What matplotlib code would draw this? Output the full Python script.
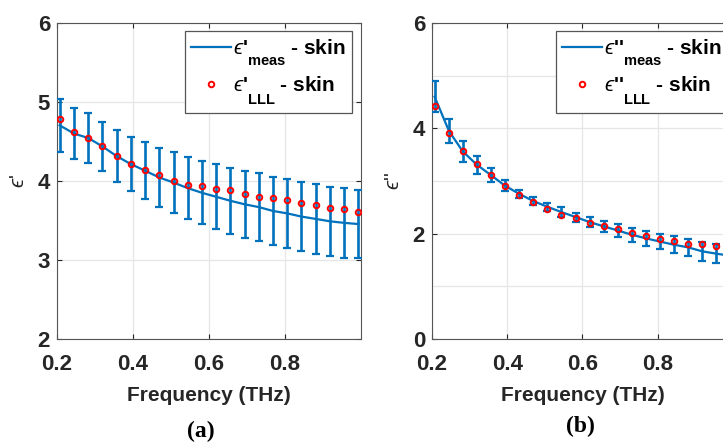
import matplotlib
matplotlib.use("Agg")  # no display
import matplotlib.pyplot as plt
from matplotlib.lines import Line2D
from matplotlib.ticker import MultipleLocator

# ---- data --------------------------------------------------------------
freq = [0.207, 0.245, 0.282, 0.319, 0.357, 0.394, 0.432, 0.469, 0.507, 0.544, 0.582,
        0.619, 0.656, 0.694, 0.731, 0.769, 0.806, 0.843, 0.881, 0.918, 0.956, 0.993]

# (a) real part
eps_re_meas = [4.705, 4.60, 4.545, 4.44, 4.315, 4.215, 4.13, 4.045, 3.98, 3.91, 3.85,
               3.80, 3.75, 3.705, 3.67, 3.62, 3.59, 3.55, 3.52, 3.49, 3.47, 3.455]
eps_re_err = [0.335, 0.32, 0.315, 0.31, 0.325, 0.345, 0.36, 0.375, 0.39, 0.39, 0.40,
              0.41, 0.42, 0.425, 0.43, 0.43, 0.44, 0.44, 0.44, 0.44, 0.44, 0.435]
eps_re_lll = [4.79, 4.62, 4.54, 4.44, 4.32, 4.22, 4.14, 4.07, 4.00, 3.955, 3.94,
              3.90, 3.88, 3.84, 3.80, 3.785, 3.755, 3.72, 3.69, 3.66, 3.64, 3.61]

# (b) imaginary part
eps_im_meas = [4.60, 3.95, 3.56, 3.31, 3.11, 2.91, 2.755, 2.62, 2.51, 2.41, 2.315,
               2.22, 2.14, 2.06, 1.98, 1.91, 1.85, 1.79, 1.74, 1.665, 1.62, 1.58]
eps_im_err = [0.29, 0.23, 0.20, 0.17, 0.13, 0.10, 0.075, 0.075, 0.08, 0.10, 0.085,
              0.10, 0.10, 0.12, 0.13, 0.135, 0.15, 0.16, 0.16, 0.175, 0.185, 0.19]
eps_im_lll = [4.42, 3.92, 3.565, 3.32, 3.105, 2.91, 2.73, 2.60, 2.47, 2.36, 2.30,
              2.205, 2.14, 2.08, 2.01, 1.96, 1.90, 1.865, 1.81, 1.80, 1.76, 1.74]

x_ticks = [0.2, 0.4, 0.6, 0.8]

BLUE = "#0072BD"
DARK = "#262626"
EPS = "\u03f5"  # lunate epsilon, as MATLAB's \epsilon

plt.rcParams.update({
    "font.family": ["Liberation Sans", "DejaVu Sans"],
    "font.weight": "bold",
    "mathtext.fontset": "custom",
    "mathtext.rm": "Liberation Sans:weight=normal",
    "mathtext.it": "Liberation Sans:slant=italic:weight=normal",
    "mathtext.bf": "Liberation Sans:weight=bold",
})

fig = plt.figure(figsize=(7.23, 4.45), dpi=100)
ax_a = fig.add_axes([0.0788, 0.2382, 0.4205, 0.7101])
ax_b = fig.add_axes([0.5975, 0.2382, 0.4163, 0.7101])


def legend_label(primes, sub):
    # MATLAB-style: epsilon, bold prime(s), subscript dropped below the baseline
    return f"${EPS}$" + primes + r"$\underset{\mathbf{" + sub + r"}}{}$ - skin"


def panel(ax, meas, err, lll, ylim, yticks, ylabel, labels, leg_loc, leg_anchor):
    ax.errorbar(freq, meas, yerr=err, color=BLUE, lw=1.6, elinewidth=1.9,
                capsize=2.7, capthick=1.6, zorder=3)
    ax.plot(freq, lll, ls="none", marker="o", ms=4, mfc="none", mec="red",
            mew=1.4, zorder=4)

    ax.set_xlim(0.2, 1.0)
    ax.set_ylim(*ylim)
    ax.set_xticks(x_ticks)
    ax.set_xticklabels([f"{t:.1f}" for t in x_ticks])
    ax.set_yticks(yticks)
    ax.yaxis.set_minor_locator(MultipleLocator(1))
    ax.grid(True, which="both", color="#e6e6e6", lw=0.9)
    ax.set_axisbelow(True)
    ax.tick_params(which="major", direction="in", length=3.5, width=0.8,
                   top=True, right=True, labelsize=16, colors=DARK)
    ax.tick_params(axis="x", pad=11)
    ax.tick_params(axis="y", pad=5)
    ax.tick_params(which="minor", length=0)
    for s in ax.spines.values():
        s.set_color("#555555")
        s.set_linewidth(0.8)

    ax.set_xlabel("Frequency (THz)", fontsize=15, color=DARK, fontweight="bold")
    ax.xaxis.set_label_coords(0.5, -0.150)
    ax.set_ylabel(ylabel, fontsize=15, color=DARK)
    ax.yaxis.set_label_coords(-0.095, 0.5)

    handles = [Line2D([], [], color=BLUE, lw=1.6),
               Line2D([], [], ls="none", marker="o", ms=4, mfc="none", mec="red", mew=1.4)]
    leg = ax.legend(handles, labels, loc=leg_loc, bbox_to_anchor=leg_anchor,
                    borderaxespad=0, fancybox=False, framealpha=1,
                    prop={"size": 15, "weight": "bold"}, handlelength=1.9,
                    handletextpad=0.1, borderpad=0.3, labelspacing=0.3)
    leg.get_frame().set_edgecolor("#555555")
    leg.get_frame().set_linewidth(0.9)


panel(ax_a, eps_re_meas, eps_re_err, eps_re_lll, (2, 6), [2, 3, 4, 5, 6],
      f"${EPS}$'",
      [legend_label("'", "meas"), legend_label("'", "LLL")],
      "upper right", (0.970, 0.975))
panel(ax_b, eps_im_meas, eps_im_err, eps_im_lll, (0, 6), [0, 2, 4, 6],
      f"${EPS}$''",
      [legend_label("''", "meas"), legend_label("''", "LLL")],
      "upper left", (0.412, 0.975))

fig.text(201 / 723, 1 - 431 / 445, "(a)", family="Liberation Serif", fontweight="bold",
         fontsize=17, ha="center", va="center", color="black")
fig.text(580 / 723, 1 - 426 / 445, "(b)", family="Liberation Serif", fontweight="bold",
         fontsize=17, ha="center", va="center", color="black")

fig.savefig("out.png", dpi=100)
